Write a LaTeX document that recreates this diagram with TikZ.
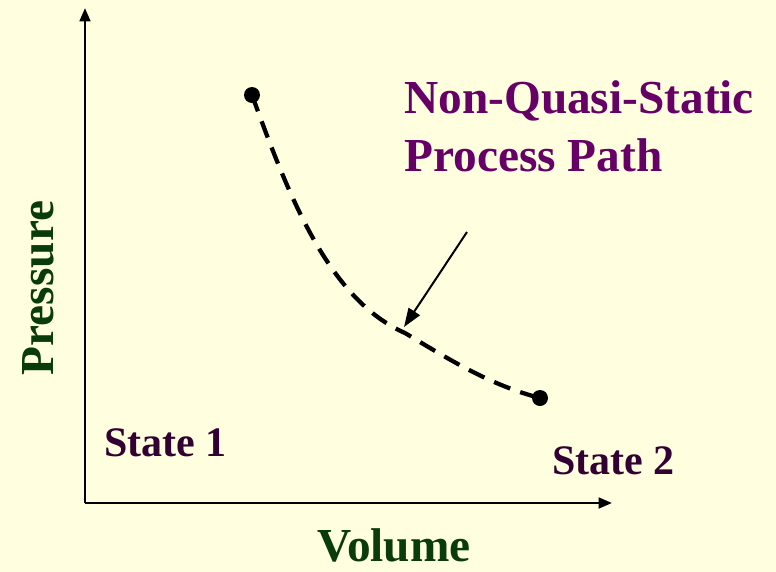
\documentclass[tikz,border=0pt]{standalone}
\usepackage{fontspec}
\setmainfont{Liberation Serif}
\usetikzlibrary{arrows.meta}
\definecolor{paperYellow}{RGB}{255, 255, 224}
\definecolor{axisGreen}{RGB}{10, 60, 10}
\definecolor{pathPurple}{RGB}{102, 0, 102}
\definecolor{stateDark}{RGB}{50, 0, 50}

\begin{document}
\begin{tikzpicture}[
  x=0.75pt, y=-0.75pt,
  axis/.style={draw=black, line width=2pt, -{Triangle[length=10pt, width=8pt]}},
  axlabel/.style={font=\fontsize{35.5}{40}\selectfont\bfseries, text=axisGreen, inner sep=0pt},
  statelbl/.style={font=\fontsize{31.5}{36}\selectfont\bfseries, text=stateDark, anchor=west, inner sep=0pt},
  pathlbl/.style={font=\fontsize{35.5}{43.5}\selectfont\bfseries, text=pathPurple, align=left, anchor=north west, inner sep=0pt},
  dot/.style={circle, fill=black, inner sep=0pt, minimum size=12pt},
  proc/.style={draw=black, line width=3.2pt, dash pattern=on 13pt off 8pt},
  pointer/.style={draw=black, line width=1.5pt, -{Triangle[length=14pt, width=10pt]}}
]

  % background / bounding box
  \fill[paperYellow] (0,0) rectangle (776,572);
  \useasboundingbox (0,0) rectangle (776,572);

  % axes
  \coordinate (origin) at (85,503);
  \coordinate (ytip)   at (85,8);
  \coordinate (xtip)   at (612,503);
  \draw[axis] (origin) -- (ytip);
  \draw[axis] (origin) -- (xtip);

  \node[axlabel, rotate=90] (pres) at (38,288) {Pressure};
  \node[axlabel, anchor=base] (vol) at (394,561) {Volume};

  % states
  \node[dot] (s1) at (252,95) {};
  \node[dot] (s2) at (540,398) {};
  \node[statelbl] (lbl1) at (104,443) {State 1};
  \node[statelbl] (lbl2) at (552,461) {State 2};

  % process path
  \draw[proc] (s1.center) .. controls (290,200) and (330,300) .. (405,333)
              .. controls (450,360) and (490,385) .. (s2.center);

  \node[pathlbl] (title) at (404,80) {Non-Quasi-Static\\Process Path};
  \coordinate (ptail) at (467,232);
  \coordinate (phead) at (404,327);
  \draw[pointer] (ptail) -- (phead);

\end{tikzpicture}
\end{document}
